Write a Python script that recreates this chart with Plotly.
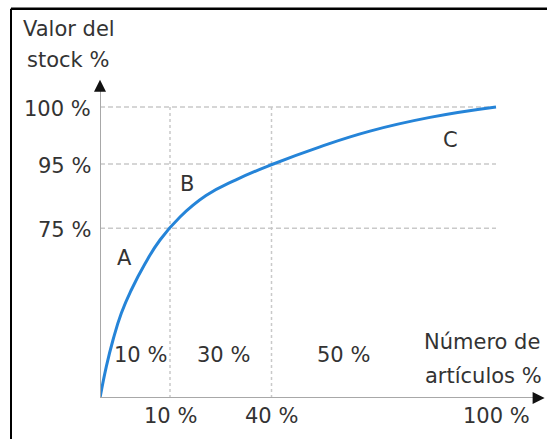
import plotly.graph_objects as go

# ABC (Pareto) curve drawn on a schematic, non-proportional scale.
# Axis units: 0..100 from origin to the "100 %" mark on each axis.
curve_x = [0, 1.59, 3.28, 5.38, 7.90, 11.36, 15.15, 20.20, 26.77, 34.34,
           43.43, 55.56, 68.18, 83.33, 100]
curve_y = [0, 10.76, 19.93, 29.11, 37.11, 46.15, 54.30, 62.20, 69.55, 74.98,
           80.24, 86.32, 91.72, 96.43, 100]

# Tick marks (position on the schematic axis, printed text)
x_tick_pos = [17.68, 43.31, 100]
x_tick_text = ["10 %", "40 %", "100 %"]
y_tick_pos = [100, 80.4, 58.3]
y_tick_text = ["100 %", "95 %", "75 %"]

# Class letters and share of articles per class
class_names = ["A", "B", "C"]
class_share = ["10 %", "30 %", "50 %"]

X_MAX = 112.88
Y_MAX = 109.97
FONT = "DejaVu Sans"
TXT = "#333333"
BLUE = "#2584d8"
AXIS_GREY = "#a8a8a8"
GRID_GREY = "#c9c9c9"
HEAD = "#111111"

fig = go.Figure()
fig.add_trace(go.Scatter(
    x=curve_x, y=curve_y, mode="lines",
    line=dict(color=BLUE, width=3, shape="spline", smoothing=1.3),
    hoverinfo="skip", showlegend=False,
))

shapes = []
# dashed guide lines up to the 100 % level
for yv in y_tick_pos:
    shapes.append(dict(type="line", xref="x", yref="y", x0=0, x1=x_tick_pos[-1],
                       y0=yv, y1=yv, layer="below",
                       line=dict(color=GRID_GREY, width=1.5, dash="5px,3px")))
for xv in x_tick_pos[:-1]:
    shapes.append(dict(type="line", xref="x", yref="y", x0=xv, x1=xv,
                       y0=0, y1=y_tick_pos[0], layer="below",
                       line=dict(color=GRID_GREY, width=1.5, dash="3px,3px")))
# axis lines
shapes.append(dict(type="line", xref="x", yref="y", x0=0, x1=0, y0=0, y1=106,
                   line=dict(color=AXIS_GREY, width=2)))
shapes.append(dict(type="line", xref="x", yref="y", x0=0, x1=109.5, y0=0, y1=0,
                   line=dict(color=AXIS_GREY, width=2)))
# frame lines on top and left
shapes.append(dict(type="line", xref="paper", yref="paper", x0=-0.1991, x1=1.02,
                   y0=1.2166, y1=1.2166, line=dict(color="black", width=2.5)))
shapes.append(dict(type="line", xref="paper", yref="paper", x0=-0.1991, x1=-0.1991,
                   y0=1.2166, y1=-0.15, line=dict(color="black", width=2)))

font = dict(family=FONT, size=21, color=TXT)
ann = []
# arrow heads at the axis ends
ann.append(dict(x=0, y=Y_MAX - 0.6, ax=0, ay=Y_MAX - 3.5, xref="x", yref="y",
                axref="x", ayref="y", text="", showarrow=True, arrowhead=2,
                arrowsize=1.6, arrowwidth=1.5, arrowcolor=HEAD))
ann.append(dict(x=X_MAX - 0.6, y=0, ax=X_MAX - 3.5, ay=0, xref="x", yref="y",
                axref="x", ayref="y", text="", showarrow=True, arrowhead=2,
                arrowsize=1.6, arrowwidth=1.5, arrowcolor=HEAD))

for pos, txt in zip(y_tick_pos, y_tick_text):
    ann.append(dict(x=0, y=pos, xref="x", yref="y", text=txt, showarrow=False,
                    xanchor="right", yanchor="middle", xshift=-7, yshift=-2, font=font))
for pos, txt in zip(x_tick_pos, x_tick_text):
    ann.append(dict(x=pos, y=0, xref="x", yref="y", text=txt, showarrow=False,
                    xanchor="center", yanchor="top", yshift=-4, font=font))

letter_pos = [(6.31, 48.1), (21.97, 73.5), (88.4, 88.7)]
for (lx, ly), txt in zip(letter_pos, class_names):
    ann.append(dict(x=lx, y=ly, xref="x", yref="y", text=txt, showarrow=False,
                    xanchor="center", yanchor="middle", font=font))
share_x = [10.35, 31.3, 61.6]
for sx, txt in zip(share_x, class_share):
    ann.append(dict(x=sx, y=14.8, xref="x", yref="y", text=txt, showarrow=False,
                    xanchor="center", yanchor="middle", font=font))

# axis titles
ann.append(dict(x=-0.1767, y=1.152, xref="paper", yref="paper", text="Valor del",
                showarrow=False, xanchor="left", yanchor="middle", font=font))
ann.append(dict(x=-0.168, y=1.055, xref="paper", yref="paper", text="stock %",
                showarrow=False, xanchor="left", yanchor="middle", font=font))
ann.append(dict(x=0.720, y=0.175, xref="paper", yref="paper", text="Número de",
                showarrow=False, xanchor="left", yanchor="middle", font=font))
ann.append(dict(x=0.722, y=0.069, xref="paper", yref="paper", text="artículos %",
                showarrow=False, xanchor="left", yanchor="middle", font=font))

fig.update_layout(
    width=547, height=439,
    margin=dict(l=100, r=0, t=78, b=41),
    paper_bgcolor="white", plot_bgcolor="white",
    xaxis=dict(range=[0, X_MAX], visible=False, fixedrange=True),
    yaxis=dict(range=[0, Y_MAX], visible=False, fixedrange=True),
    shapes=shapes, annotations=ann, showlegend=False,
)

fig.write_html("out.html", config={"displayModeBar": False})
